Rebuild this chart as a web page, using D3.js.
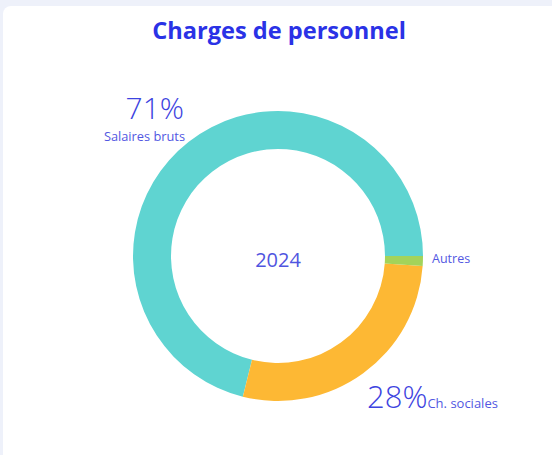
<!DOCTYPE html>
<html><head><meta charset="utf-8">
<script src="https://cdn.jsdelivr.net/npm/d3@7"></script>
<style>
html,body{margin:0;padding:0;background:#eef1fa;}
svg{display:block;}
</style></head>
<body>
<svg id="chart" width="552" height="455"></svg>
<script>
const title = "Charges de personnel";
const centerLabel = "2024";
const categories = ["Salaires bruts", "Ch. sociales", "Autres"];
const values = [71.1, 27.8, 1.1];
const pctLabels = ["71%", "28%", ""];
const colors = ["#5fd4d1", "#fdb834", "#a3d35a"];

const svg = d3.select("#chart");
svg.append("rect").attr("x", 3).attr("y", 6).attr("width", 560).attr("height", 460)
  .attr("rx", 8).attr("fill", "#ffffff");

svg.append("text").attr("x", 279).attr("y", 39).attr("text-anchor", "middle")
  .attr("font-family", "Open Sans, sans-serif").attr("font-weight", 700)
  .attr("font-size", 23.6).attr("fill", "#2a32e6").text(title);

const cx = 278, cy = 256, R = 145, r = 107;
const data = categories.map((c, i) => ({cat: c, value: values[i], pct: pctLabels[i], color: colors[i]}));
const pie = d3.pie().value(d => d.value).sort(null)
  .startAngle(Math.PI / 2).endAngle(Math.PI / 2 - 2 * Math.PI);
const arc = d3.arc().innerRadius(r).outerRadius(R);
const g = svg.append("g").attr("transform", `translate(${cx},${cy})`);
g.selectAll("path").data(pie(data)).join("path")
  .attr("d", arc).attr("fill", d => d.data.color);

g.append("text").attr("x", 0).attr("y", 11).attr("text-anchor", "middle")
  .attr("font-family", "Open Sans, sans-serif").attr("font-size", 20)
  .attr("fill", "#4f55e0").text(centerLabel);

const lab = "#5257e2";
// Salaires bruts label (top-left)
svg.append("text").attr("x", 184).attr("y", 119).attr("text-anchor", "end")
  .attr("font-family", "Open Sans, sans-serif").attr("font-weight", 300).attr("font-size", 30)
  .attr("fill", "#3d43e0").text(data[0].pct);
svg.append("text").attr("x", 185).attr("y", 141).attr("text-anchor", "end")
  .attr("font-family", "Open Sans, sans-serif").attr("font-size", 12.8)
  .attr("fill", lab).text(data[0].cat);
// Ch. sociales label (bottom-right)
const t2 = svg.append("text").attr("x", 367).attr("y", 408)
  .attr("font-family", "Open Sans, sans-serif").attr("fill", lab);
t2.append("tspan").attr("font-weight", 300).attr("font-size", 31).attr("fill", "#3d43e0").text(data[1].pct);
t2.append("tspan").attr("font-size", 13).attr("dx", 0).text(data[1].cat);
// Autres
svg.append("text").attr("x", 432).attr("y", 263)
  .attr("font-family", "Open Sans, sans-serif").attr("font-size", 12.5)
  .attr("fill", lab).text(data[2].cat);
</script>
</body></html>
